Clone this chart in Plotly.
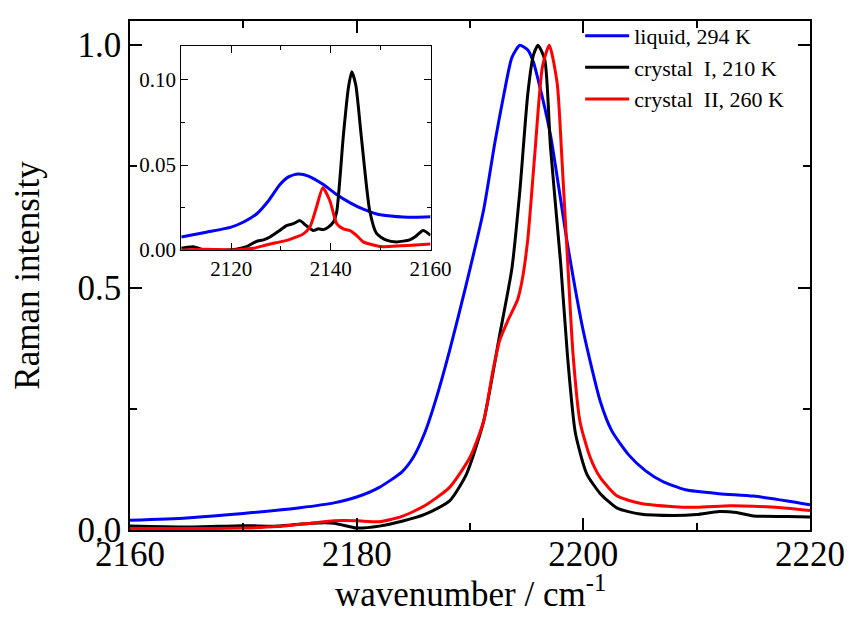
import plotly.graph_objects as go

# ---- main panel data (wavenumber / cm^-1, normalized Raman intensity) ----
liq_x = [2160, 2165, 2170, 2175, 2178, 2180, 2182, 2184, 2185, 2186, 2187, 2188.2, 2189.6, 2191.2, 2192.2, 2193,
         2193.7, 2194.4, 2195.1, 2195.6, 2196, 2197.1, 2198.6, 2200, 2201.5, 2202.5, 2204, 2205.5, 2207, 2209,
         2212, 2215, 2218, 2220]
liq_y = [0.020, 0.025, 0.034, 0.046, 0.056, 0.068, 0.088, 0.12, 0.15, 0.20, 0.27, 0.37, 0.5, 0.66, 0.80, 0.90,
         0.975, 1.0, 0.99, 0.965, 0.93, 0.815, 0.59, 0.41, 0.265, 0.205, 0.155, 0.122, 0.10, 0.083,
         0.075, 0.07, 0.06, 0.052]

c1_x = [2160, 2165, 2170, 2173, 2176, 2178, 2180, 2182, 2184, 2186, 2188.2, 2189.7, 2191.2, 2192.6, 2193.7,
        2194.4, 2195.1, 2195.6, 2196.0, 2196.6, 2197.1, 2198.0, 2198.6, 2199.3, 2200.3, 2201.5, 2203, 2205, 2208,
        2210, 2212, 2213.5, 2215, 2218, 2220]
c1_y = [0.008, 0.006, 0.009, 0.008, 0.014, 0.014, 0.004, 0.008, 0.018, 0.032, 0.06, 0.116, 0.224, 0.40, 0.54,
        0.70, 0.90, 0.98, 1.0, 0.97, 0.79, 0.55, 0.36, 0.20, 0.116, 0.075, 0.045, 0.033, 0.03,
        0.032, 0.038, 0.036, 0.029, 0.028, 0.027]

c2_x = [2160, 2165, 2170, 2173, 2176, 2178, 2180, 2182, 2184, 2186, 2188.2, 2190, 2191.2, 2192.0, 2192.6, 2193.3,
        2194.2, 2194.6, 2195.1, 2195.7, 2196.4, 2197.0, 2197.7, 2198.1, 2198.6, 2199.1, 2199.7, 2200.6, 2201.5,
        2203, 2205, 2208, 2210, 2213, 2215, 2218, 2220]
c2_y = [0.003, 0.003, 0.004, 0.007, 0.014, 0.019, 0.019, 0.017, 0.028, 0.05, 0.088, 0.15, 0.224, 0.326, 0.39, 0.43,
        0.475, 0.515, 0.60, 0.77, 0.957, 1.0, 0.92, 0.77, 0.56, 0.36, 0.224, 0.15, 0.108,
        0.07, 0.055, 0.048, 0.047, 0.05, 0.049, 0.045, 0.040]

# ---- inset data (2110-2160 cm^-1) ----
in_liq_x = [2110, 2115, 2120, 2122.5, 2125.1, 2127.5, 2129.8, 2131.5, 2133.4, 2135.5, 2138.5, 2141, 2143.8, 2146.5,
            2149.2, 2152, 2154.5, 2157, 2160]
in_liq_y = [0.0077, 0.0105, 0.0135, 0.0165, 0.0212, 0.029, 0.0385, 0.043, 0.0447, 0.0435, 0.0385, 0.033, 0.0279,
            0.024, 0.0212, 0.0200, 0.0194, 0.0193, 0.0196]

in_c1_x = [2110, 2111, 2112.4, 2114, 2116, 2119, 2121, 2123.1, 2125, 2126.5, 2127.8, 2129.5, 2131.1, 2132.5,
           2133.8, 2135, 2136.5, 2137.5, 2138.5, 2139.5, 2140.5, 2141.2, 2142.5, 2143.5, 2144.2, 2145, 2146.1,
           2147.8, 2149.2, 2151, 2153.2, 2155.8, 2157, 2158.5, 2160]
in_c1_y = [0.001, 0.0015, 0.002, 0.0005, 0.0, 0.0, 0.0005, 0.002, 0.005, 0.006, 0.0077, 0.011, 0.0144, 0.0155,
           0.0173, 0.0145, 0.0115, 0.0125, 0.012, 0.0135, 0.0164, 0.023, 0.067, 0.095, 0.1048, 0.097, 0.067,
           0.023, 0.0096, 0.006, 0.0048, 0.006, 0.008, 0.0115, 0.0087]

in_c2_x = [2110, 2115, 2120, 2124.4, 2127, 2129.8, 2131.5, 2133.1, 2134.5, 2135.8, 2137.1, 2138.4, 2139.8,
           2141.2, 2142.5, 2143.8, 2145, 2146.5, 2148.5, 2150.5, 2154, 2157, 2160]
in_c2_y = [0.0, 0.0005, 0.0, 0.001, 0.003, 0.0048, 0.006, 0.0077, 0.0095, 0.0135, 0.025, 0.0366, 0.029,
           0.0154, 0.0125, 0.0115, 0.009, 0.0048, 0.003, 0.002, 0.0025, 0.003, 0.0035]

names = ["liquid, 294 K", "crystal  I, 210 K", "crystal  II, 260 K"]
colors = ["#0000FF", "#000000", "#FF0000"]
x_title = "wavenumber / cm<sup>-1</sup>"
y_title = "Raman intensity"

FONT = "Liberation Serif"
LW = 3

fig = go.Figure()
main_sets = [(liq_x, liq_y), (c1_x, c1_y), (c2_x, c2_y)]
inset_sets = [(in_liq_x, in_liq_y), (in_c1_x, in_c1_y), (in_c2_x, in_c2_y)]

for (x, y), n, c in zip(main_sets, names, colors):
    fig.add_trace(go.Scatter(x=x, y=y, mode="lines", name=n,
                             line=dict(color=c, width=LW, shape="spline", smoothing=0.6),
                             xaxis="x", yaxis="y"))
for (x, y), n, c in zip(inset_sets, names, colors):
    fig.add_trace(go.Scatter(x=x, y=y, mode="lines", name=n, showlegend=False,
                             line=dict(color=c, width=LW, shape="spline", smoothing=0.6),
                             xaxis="x2", yaxis="y2"))

axis_common = dict(showline=True, linecolor="black", mirror="allticks", automargin=False,
                   ticks="inside", tickcolor="black", showgrid=False, zeroline=False)

# page body has an 8px margin, so the figure is 8px smaller than the window
fig.update_layout(
    width=844, height=611,
    margin=dict(l=122, r=42, t=7, b=89),
    paper_bgcolor="white", plot_bgcolor="white",
    font=dict(family=FONT, color="black"),
    xaxis=dict(range=[2160, 2220], dtick=20, ticklen=12, tickwidth=1.5, linewidth=1.5,
               minor=dict(dtick=10, ticks="inside", ticklen=7, tickcolor="black", tickwidth=1.5),
               tickfont=dict(size=35), ticklabelstandoff=-8,
               **axis_common),
    yaxis=dict(range=[0, 1.05], dtick=0.5, tickformat=".1f", ticklen=12, tickwidth=1.5, linewidth=1.5,
               minor=dict(dtick=0.25, ticks="inside", ticklen=7, tickcolor="black", tickwidth=1.5),
               tickfont=dict(size=35),
               title=dict(text=y_title, font=dict(size=35), standoff=30),
               **axis_common),
    xaxis2=dict(domain=[0.0754, 0.442], anchor="y2", range=[2110, 2160], dtick=20, tick0=2120,
                ticklen=7, tickwidth=1, linewidth=1,
                minor=dict(dtick=10, ticks="inside", ticklen=4, tickcolor="black", tickwidth=1),
                tickfont=dict(size=21), **axis_common),
    yaxis2=dict(domain=[0.550, 0.951], anchor="x2", range=[0, 0.12], dtick=0.05, tickformat=".2f",
                ticklen=7, tickwidth=1, linewidth=1,
                minor=dict(dtick=0.025, ticks="inside", ticklen=4, tickcolor="black", tickwidth=1),
                tickfont=dict(size=21), **axis_common),
    legend=dict(x=0.662, y=1.012, xanchor="left", yanchor="top", bgcolor="rgba(0,0,0,0)",
                font=dict(size=22, family=FONT), itemwidth=44, tracegroupgap=0),
    showlegend=True,
    annotations=[dict(text=x_title, xref="paper", yref="paper", x=0.5, y=-0.12,
                      xanchor="center", yanchor="middle", showarrow=False,
                      font=dict(size=35, family=FONT, color="black"))],
)

fig.write_html("out.html")
